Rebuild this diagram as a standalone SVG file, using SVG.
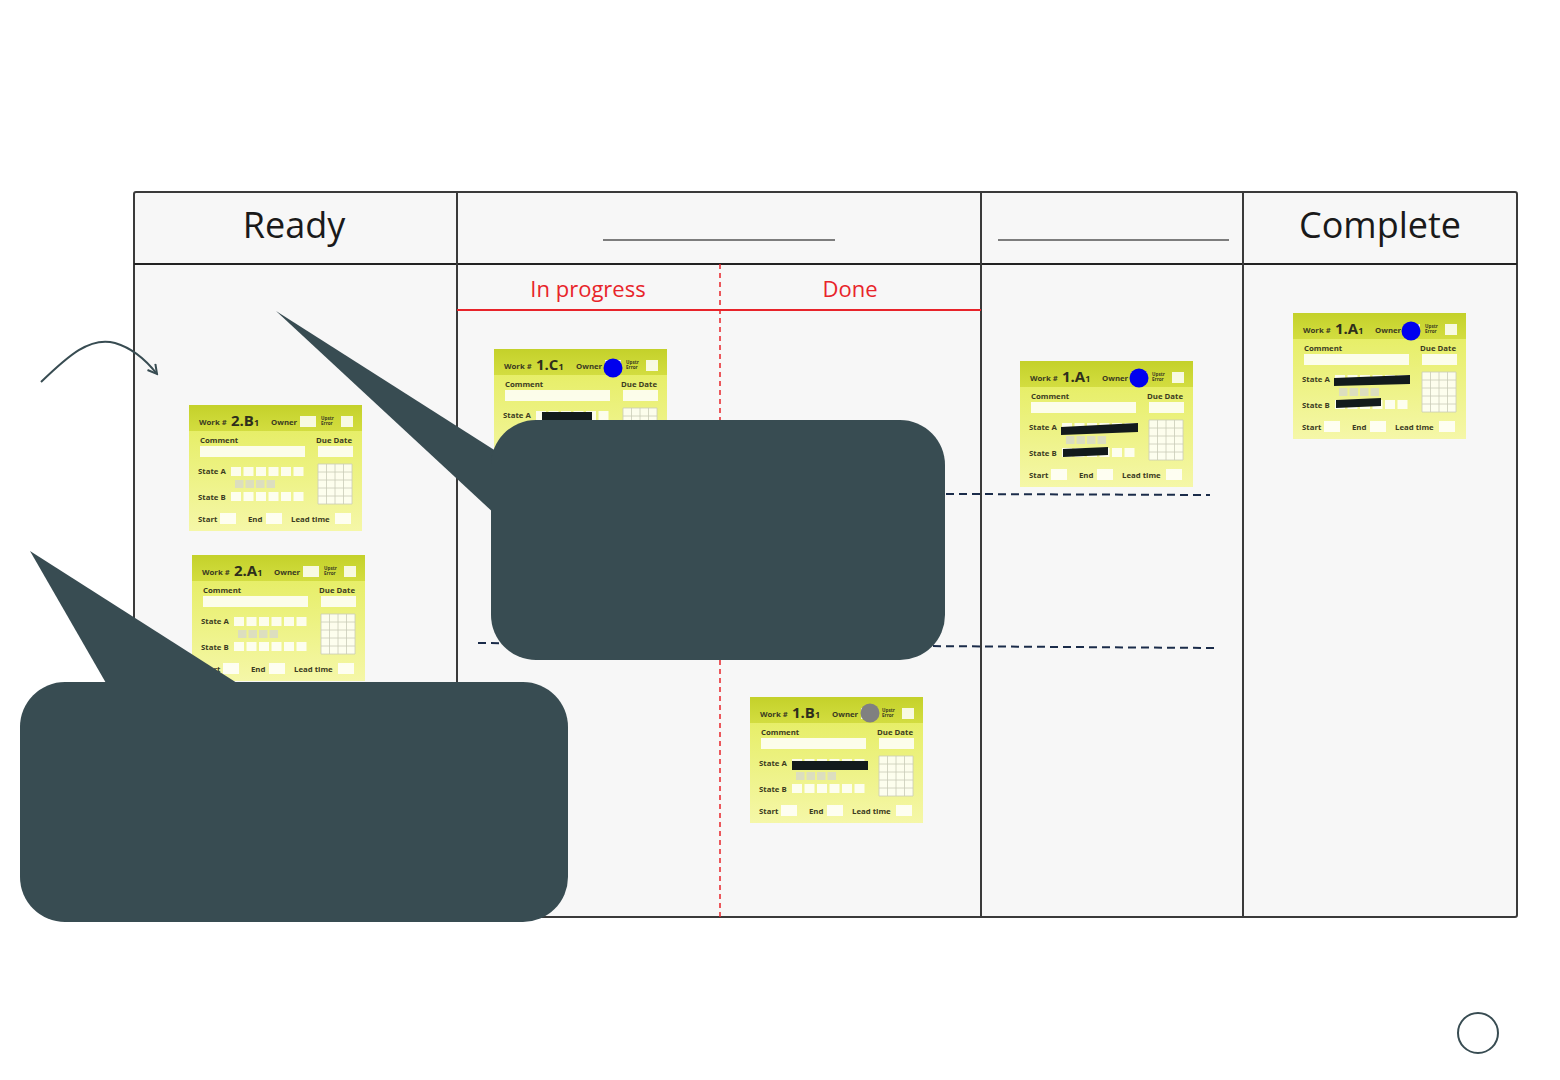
<svg xmlns="http://www.w3.org/2000/svg" xmlns:xlink="http://www.w3.org/1999/xlink" width="1560" height="1080" viewBox="0 0 1560 1080">
<defs>
<style>
.hdr{font-family:"Open Sans","Noto Sans",sans-serif;font-size:36px;fill:#1a1a1a;text-anchor:middle}
.sub{font-family:"Open Sans","Noto Sans",sans-serif;font-size:22px;fill:#e8242a;text-anchor:middle}
.cl{font-family:"Open Sans","Noto Sans",sans-serif;font-weight:700;font-size:7.8px;fill:#3b3b22}
.cid{font-family:"Open Sans","Noto Sans",sans-serif;font-weight:700;font-size:15px;fill:#2e2e1c}
.tiny{font-family:"Open Sans","Noto Sans",sans-serif;font-weight:700;font-size:4.6px;fill:#3b3b22}
.wb{fill:#ffffff;opacity:0.85}
.gb{fill:#d9dcc4;opacity:0.9}
.grid{fill:none;stroke:#c9cbb8;stroke-width:0.8}
.dash{fill:none;stroke:#1b2c4a;stroke-width:2;stroke-dasharray:8 5}
.callout{fill:#384c52}
.bar{fill:#121a1c}
</style>
<linearGradient id="cardGrad" x1="0" y1="0" x2="0" y2="1">
<stop offset="0" stop-color="#e3ec58"/>
<stop offset="1" stop-color="#f5f7a8"/>
</linearGradient>
<linearGradient id="bandGrad" x1="0" y1="0" x2="0" y2="1">
<stop offset="0" stop-color="#c4d12a"/>
<stop offset="1" stop-color="#d3dd40"/>
</linearGradient>
<marker id="open" markerWidth="12" markerHeight="12" refX="10" refY="6" orient="auto" markerUnits="userSpaceOnUse">
<path d="M1,1 L10,6 L1,11" fill="none" stroke="#384c52" stroke-width="2"/>
</marker>
<g id="form">
<rect width="173" height="126" fill="url(#cardGrad)"/>
<rect width="173" height="26" fill="url(#bandGrad)"/>
<rect class="wb" x="111" y="11" width="16" height="11"/>
<rect class="wb" x="152" y="11" width="12" height="11"/>
<rect class="wb" x="11" y="41" width="105" height="11"/>
<rect class="wb" x="129" y="41" width="35" height="11"/>
<rect class="wb" x="42" y="62" width="10" height="9"/>
<rect class="wb" x="54.5" y="62" width="10" height="9"/>
<rect class="wb" x="67" y="62" width="10" height="9"/>
<rect class="wb" x="79.5" y="62" width="10" height="9"/>
<rect class="wb" x="92" y="62" width="10" height="9"/>
<rect class="wb" x="104.5" y="62" width="10" height="9"/>
<rect class="gb" x="46" y="75" width="8.5" height="8"/>
<rect class="gb" x="56.5" y="75" width="8.5" height="8"/>
<rect class="gb" x="67" y="75" width="8.5" height="8"/>
<rect class="gb" x="77.5" y="75" width="8.5" height="8"/>
<rect class="wb" x="42" y="87" width="10" height="9"/>
<rect class="wb" x="54.5" y="87" width="10" height="9"/>
<rect class="wb" x="67" y="87" width="10" height="9"/>
<rect class="wb" x="79.5" y="87" width="10" height="9"/>
<rect class="wb" x="92" y="87" width="10" height="9"/>
<rect class="wb" x="104.5" y="87" width="10" height="9"/>
<rect class="wb" x="129" y="59" width="34" height="40"/>
<path class="grid" d="M129,59H163V99H129Z M137.5,59V99 M146,59V99 M154.5,59V99 M129,67H163 M129,75H163 M129,83H163 M129,91H163"/>
<rect class="wb" x="31" y="108" width="16" height="11"/>
<rect class="wb" x="77" y="108" width="16" height="11"/>
<rect class="wb" x="146" y="108" width="16" height="11"/>
</g>
</defs>
<rect width="1560" height="1080" fill="#ffffff"/>

<g id="board">
<rect x="134" y="192" width="1383" height="725" rx="2" fill="#f7f7f7" stroke="#3a3a3a" stroke-width="2"/>
<line x1="134" y1="264" x2="1517" y2="264" stroke="#222" stroke-width="2"/>
<line x1="457" y1="192" x2="457" y2="917" stroke="#3a3a3a" stroke-width="2"/>
<line x1="981" y1="192" x2="981" y2="917" stroke="#3a3a3a" stroke-width="2"/>
<line x1="1243" y1="192" x2="1243" y2="917" stroke="#3a3a3a" stroke-width="2"/>
<text class="hdr" x="294" y="238">Ready</text>
<text class="hdr" x="1380" y="238">Complete</text>
<line x1="603" y1="240" x2="835" y2="240" stroke="#555" stroke-width="1.5"/>
<line x1="998" y1="240" x2="1229" y2="240" stroke="#555" stroke-width="1.5"/>
<text class="sub" x="588" y="297">In progress</text>
<text class="sub" x="850" y="297">Done</text>
<line x1="457" y1="310" x2="981" y2="310" stroke="#e8242a" stroke-width="2"/>
<line x1="720" y1="264" x2="720" y2="917" stroke="#e8242a" stroke-width="1.5" stroke-dasharray="5 4"/>
</g>

<g id="connectors">
<line class="dash" x1="478" y1="492" x2="1210" y2="495"/>
<line class="dash" x1="478" y1="643" x2="1214" y2="648"/>
<path d="M41,382 C68,356 90,336 115,343 C132,348 146,360 157,374" fill="none" stroke="#384c52" stroke-width="2" marker-end="url(#open)"/>
</g>

<g id="card-2B1" transform="translate(189,405)">
<use xlink:href="#form" href="#form"/>
<text class="cl" x="10" y="20">Work #</text>
<text class="cid" x="42" y="21">2.B<tspan font-size="9">1</tspan></text>
<text class="cl" x="82" y="20">Owner</text>
<text class="tiny" x="132" y="15">Upstr</text><text class="tiny" x="132" y="20">Error</text>
<text class="cl" x="11" y="38">Comment</text>
<text class="cl" x="127" y="38">Due Date</text>
<text class="cl" x="9" y="69">State A</text>
<text class="cl" x="9" y="95">State B</text>
<text class="cl" x="9" y="117">Start</text>
<text class="cl" x="59" y="117">End</text>
<text class="cl" x="102" y="117">Lead time</text>
</g>

<g id="card-2A1" transform="translate(192,555)">
<use xlink:href="#form" href="#form"/>
<text class="cl" x="10" y="20">Work #</text>
<text class="cid" x="42" y="21">2.A<tspan font-size="9">1</tspan></text>
<text class="cl" x="82" y="20">Owner</text>
<text class="tiny" x="132" y="15">Upstr</text><text class="tiny" x="132" y="20">Error</text>
<text class="cl" x="11" y="38">Comment</text>
<text class="cl" x="127" y="38">Due Date</text>
<text class="cl" x="9" y="69">State A</text>
<text class="cl" x="9" y="95">State B</text>
<text class="cl" x="9" y="117">Start</text>
<text class="cl" x="59" y="117">End</text>
<text class="cl" x="102" y="117">Lead time</text>
</g>

<g id="card-1C1" transform="translate(494,349)">
<use xlink:href="#form" href="#form"/>
<text class="cl" x="10" y="20">Work #</text>
<text class="cid" x="42" y="21">1.C<tspan font-size="9">1</tspan></text>
<text class="cl" x="82" y="20">Owner</text>
<text class="tiny" x="132" y="15">Upstr</text><text class="tiny" x="132" y="20">Error</text>
<text class="cl" x="11" y="38">Comment</text>
<text class="cl" x="127" y="38">Due Date</text>
<text class="cl" x="9" y="69">State A</text>
<rect class="bar" x="48" y="63" width="50" height="8"/>
<text class="cl" x="9" y="95">State B</text>
<text class="cl" x="9" y="117">Start</text>
<text class="cl" x="59" y="117">End</text>
<text class="cl" x="102" y="117">Lead time</text>
<circle cx="119" cy="19" r="9.5" fill="#0000ee"/>
</g>

<g id="card-1B1" transform="translate(750,697)">
<use xlink:href="#form" href="#form"/>
<text class="cl" x="10" y="20">Work #</text>
<text class="cid" x="42" y="21">1.B<tspan font-size="9">1</tspan></text>
<text class="cl" x="82" y="20">Owner</text>
<text class="tiny" x="132" y="15">Upstr</text><text class="tiny" x="132" y="20">Error</text>
<text class="cl" x="11" y="38">Comment</text>
<text class="cl" x="127" y="38">Due Date</text>
<text class="cl" x="9" y="69">State A</text>
<rect class="bar" x="42" y="64" width="76" height="9"/>
<text class="cl" x="9" y="95">State B</text>
<text class="cl" x="9" y="117">Start</text>
<text class="cl" x="59" y="117">End</text>
<text class="cl" x="102" y="117">Lead time</text>
<circle cx="120" cy="16" r="9.5" fill="#808080"/>
</g>

<g id="card-1A1-mid" transform="translate(1020,361)">
<use xlink:href="#form" href="#form"/>
<text class="cl" x="10" y="20">Work #</text>
<text class="cid" x="42" y="21">1.A<tspan font-size="9">1</tspan></text>
<text class="cl" x="82" y="20">Owner</text>
<text class="tiny" x="132" y="15">Upstr</text><text class="tiny" x="132" y="20">Error</text>
<text class="cl" x="11" y="38">Comment</text>
<text class="cl" x="127" y="38">Due Date</text>
<text class="cl" x="9" y="69">State A</text>
<polygon class="bar" points="41,66 118,62 118,71 41,74"/>
<text class="cl" x="9" y="95">State B</text>
<polygon class="bar" points="43,88 88,86 88,94 43,96"/>
<text class="cl" x="9" y="117">Start</text>
<text class="cl" x="59" y="117">End</text>
<text class="cl" x="102" y="117">Lead time</text>
<circle cx="119" cy="17" r="9.5" fill="#0000ee"/>
</g>

<g id="card-1A1-complete" transform="translate(1293,313)">
<use xlink:href="#form" href="#form"/>
<text class="cl" x="10" y="20">Work #</text>
<text class="cid" x="42" y="21">1.A<tspan font-size="9">1</tspan></text>
<text class="cl" x="82" y="20">Owner</text>
<text class="tiny" x="132" y="15">Upstr</text><text class="tiny" x="132" y="20">Error</text>
<text class="cl" x="11" y="38">Comment</text>
<text class="cl" x="127" y="38">Due Date</text>
<text class="cl" x="9" y="69">State A</text>
<polygon class="bar" points="41,65 117,62 117,71 41,73"/>
<text class="cl" x="9" y="95">State B</text>
<polygon class="bar" points="43,87 88,85 88,93 43,95"/>
<text class="cl" x="9" y="117">Start</text>
<text class="cl" x="59" y="117">End</text>
<text class="cl" x="102" y="117">Lead time</text>
<circle cx="118" cy="18" r="9.5" fill="#0000ee"/>
</g>

<g id="callout-1">
<polygon class="callout" points="276,311 510,460 510,528"/>
<rect class="callout" x="491" y="420" width="454" height="240" rx="45"/>
</g>

<g id="callout-2">
<polygon class="callout" points="30,551 110,690 248,690"/>
<rect class="callout" x="20" y="682" width="548" height="240" rx="45"/>
</g>

<g id="circle-node">
<circle cx="1478" cy="1033" r="20" fill="#ffffff" stroke="#384c52" stroke-width="2"/>
</g>
</svg>
